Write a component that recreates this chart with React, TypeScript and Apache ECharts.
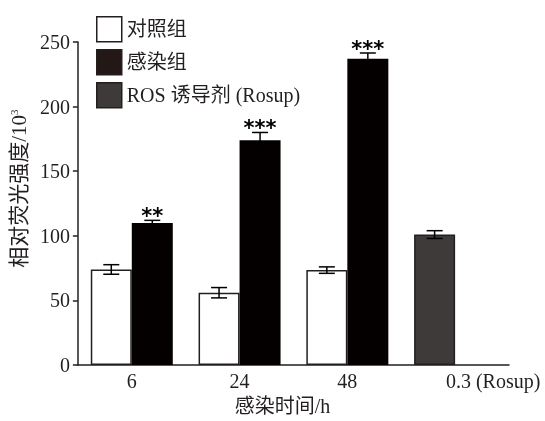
import React, { useEffect, useRef } from "react";
import * as echarts from "echarts";

const categories = ["6", "24", "48", "0.3 (Rosup)"];
const controlValues = [74, 56, 73.5, null];
const controlErrors = [3.7, 4, 2.5, null];
const infectedValues = [110, 174, 237, null];
const infectedErrors = [2, 6, 4.5, null];
const rosupValues = [null, null, null, 101];
const rosupErrors = [null, null, null, 3];
const significance = ["**", "***", "***", ""];
const yMin = 0;
const yMax = 250;
const yInterval = 50;

const SERIF = "'Liberation Serif', 'Times New Roman', 'Noto Sans CJK SC', serif";
const INK = "#231f20";
const BAR_W = 41;

export default function App() {
  const ref = useRef<HTMLDivElement>(null);
  useEffect(() => {
    if (!ref.current) return;
    const chart = echarts.init(ref.current, null, { renderer: "svg" });

    // error-bar data: [categoryIndex, value, error, slot(-1 left / +1 right), label]
    const errData: any[] = [];
    categories.forEach((_, i) => {
      if (controlValues[i] != null) errData.push([i, controlValues[i], controlErrors[i], -1, ""]);
      if (infectedValues[i] != null) errData.push([i, infectedValues[i], infectedErrors[i], 1, significance[i]]);
      if (rosupValues[i] != null) errData.push([i, rosupValues[i], rosupErrors[i], -1, ""]);
    });

    chart.setOption({
      animation: false,
      textStyle: { fontFamily: SERIF, color: INK },
      legend: {
        orient: "vertical",
        left: 91,
        top: 11,
        itemWidth: 25,
        itemHeight: 25,
        itemGap: 6.5,
        icon: "rect",
        textStyle: { fontSize: 20, color: INK, fontFamily: SERIF },
        itemStyle: { borderColor: INK, borderWidth: 1.5 },
        data: [
          { name: "对照组", itemStyle: { color: "#ffffff" } },
          { name: "感染组", itemStyle: { color: "#231815" } },
          { name: "ROS 诱导剂 (Rosup)", itemStyle: { color: "#3e3a39" } },
        ],
      },
      grid: { left: 73, right: 36, top: 42, bottom: 49, containLabel: false },
      xAxis: [
        {
          type: "category",
          data: categories.map((c, i) =>
            i === categories.length - 1
              ? { value: c, textStyle: { align: "center", padding: [0, 0, 0, 76] } }
              : c
          ),
          axisLine: { lineStyle: { color: INK, width: 1.5 } },
          axisTick: { show: false },
          axisLabel: { fontSize: 20, color: INK, fontFamily: SERIF, margin: 6, interval: 0, hideOverlap: false },
          name: "感染时间/h",
          nameLocation: "middle",
          nameGap: 26,
          nameTextStyle: { fontSize: 20, color: INK, fontFamily: SERIF, padding: [0, 22, 0, 0] },
        },
      ],
      yAxis: {
        type: "value",
        min: yMin,
        max: yMax,
        interval: yInterval,
        axisLine: { show: true, lineStyle: { color: INK, width: 1.5 } },
        axisTick: { show: true, length: 5, lineStyle: { color: INK, width: 1.5 } },
        axisLabel: { fontSize: 20, color: INK, fontFamily: SERIF, margin: 8 },
        splitLine: { show: false },
        name: "相对荧光强度/10{sup|3}",
        nameLocation: "middle",
        nameGap: 44,
        nameRotate: 90,
        nameTextStyle: {
          fontSize: 21,
          color: INK,
          fontFamily: SERIF,
          padding: [0, 0, 0, 30],
          rich: { sup: { fontSize: 11, verticalAlign: "top", padding: [0, 0, 8, 0], color: INK, fontFamily: SERIF } },
        },
      },
      series: [
        {
          name: "对照组",
          type: "bar",
          stack: "left",
          barWidth: BAR_W,
          barGap: "0%",
          data: controlValues,
          itemStyle: { color: "#ffffff", borderColor: INK, borderWidth: 1.5 },
        },
        {
          name: "感染组",
          type: "bar",
          stack: "right",
          barWidth: BAR_W,
          barGap: "0%",
          data: infectedValues,
          itemStyle: { color: "#040000" },
        },
        {
          name: "ROS 诱导剂 (Rosup)",
          type: "bar",
          stack: "left",
          barWidth: BAR_W,
          barGap: "0%",
          data: rosupValues,
          itemStyle: { color: "#3e3a39", borderColor: INK, borderWidth: 1.5 },
        },
        {
          type: "custom",
          silent: true,
          z: 10,
          data: errData,
          renderItem: (params: any, api: any) => {
            const idx = api.value(0);
            const val = api.value(1);
            const err = api.value(2);
            const slot = api.value(3);
            const label = errData[params.dataIndex][4];
            const top = api.coord([idx, val + err]);
            const bot = api.coord([idx, val - err]);
            const x = top[0] + (slot * BAR_W) / 2;
            const half = 8;
            const ls = { stroke: "#000", lineWidth: 1.5 };
            const children: any[] = [
              { type: "line", shape: { x1: x, y1: top[1], x2: x, y2: bot[1] }, style: ls },
              { type: "line", shape: { x1: x - half, y1: top[1], x2: x + half, y2: top[1] }, style: ls },
              { type: "line", shape: { x1: x - half, y1: bot[1], x2: x + half, y2: bot[1] }, style: ls },
            ];
            if (label) {
              children.push({
                type: "text",
                style: {
                  text: label,
                  x,
                  y: top[1] - 4,
                  align: "center",
                  verticalAlign: "middle",
                  fontSize: 21,
                  fontWeight: "bold",
                  fontFamily: "'DejaVu Sans', sans-serif",
                  fill: "#000",
                },
              });
            }
            return { type: "group", children };
          },
        },
      ],
    });
    return () => chart.dispose();
  }, []);
  return <div ref={ref} style={{ position: "fixed", left: 0, top: 0, width: 545, height: 421 }} />;
}
